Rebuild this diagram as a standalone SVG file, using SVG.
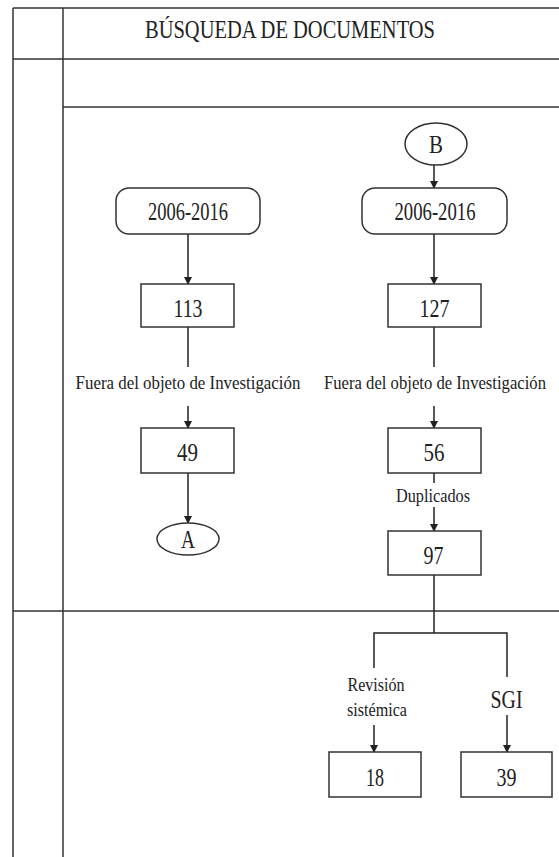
<svg xmlns="http://www.w3.org/2000/svg" width="559" height="857" viewBox="0 0 559 857">
<style>
.grid{stroke:#333;stroke-width:1.5;fill:none}
.box{fill:#fff;stroke:#333;stroke-width:1.5}
.conn{stroke:#222;stroke-width:1.5;fill:none}
.arr{stroke:#222;stroke-width:1.5;fill:none;marker-end:url(#ah)}
text{font-family:"Liberation Serif","Times New Roman",serif;fill:#222;text-anchor:middle}
.t{font-size:25px}
.n{font-size:26px}
.l{font-size:19px}
</style>
<defs>
<marker id="ah" markerWidth="8" markerHeight="10" refX="7" refY="4" orient="auto" markerUnits="userSpaceOnUse" viewBox="0 0 8 8">
<path d="M0,0 L8,4 L0,8 z" fill="#222"/>
</marker>
</defs>
<rect width="559" height="857" fill="#fff"/>
<g id="table">
<line class="grid" x1="13" y1="8" x2="559" y2="8"/>
<line class="grid" x1="13" y1="8" x2="13" y2="857"/>
<line class="grid" x1="63" y1="8" x2="63" y2="857"/>
<line class="grid" x1="13" y1="59" x2="559" y2="59"/>
<line class="grid" x1="63" y1="107" x2="559" y2="107"/>
<line class="grid" x1="13" y1="611" x2="559" y2="611"/>
<text class="t" x="290" y="38" textLength="290" lengthAdjust="spacingAndGlyphs">BÚSQUEDA DE DOCUMENTOS</text>
</g>
<g id="connectors">
<line class="arr" x1="434" y1="165" x2="434" y2="188"/>
<line class="arr" x1="188" y1="234" x2="188" y2="284"/>
<line class="arr" x1="434" y1="234" x2="434" y2="284"/>
<line class="conn" x1="188" y1="327" x2="188" y2="367"/>
<line class="arr" x1="188" y1="406" x2="188" y2="428"/>
<line class="conn" x1="434" y1="327" x2="434" y2="367"/>
<line class="arr" x1="434" y1="406" x2="434" y2="428"/>
<line class="arr" x1="188" y1="473" x2="188" y2="523"/>
<line class="conn" x1="434" y1="473" x2="434" y2="483"/>
<line class="arr" x1="434" y1="507" x2="434" y2="531"/>
<polyline class="conn" points="434,575 434,633"/>
<polyline class="conn" points="374,668 374,633 507,633 507,677"/>
<line class="arr" x1="374" y1="725" x2="374" y2="752"/>
<line class="arr" x1="507" y1="715" x2="507" y2="752"/>
<text class="l" transform="translate(188,389) scale(0.8,1)" x="0" y="0" textLength="281" lengthAdjust="spacingAndGlyphs">Fuera del objeto de Investigación</text>
<text class="l" transform="translate(435,389) scale(0.8,1)" x="0" y="0" textLength="277.5" lengthAdjust="spacingAndGlyphs">Fuera del objeto de Investigación</text>
<text class="l" x="433" y="502" textLength="74" lengthAdjust="spacingAndGlyphs">Duplicados</text>
<text class="l" x="376" y="691" textLength="57" lengthAdjust="spacingAndGlyphs">Revisión</text>
<text class="l" x="377" y="716" textLength="60" lengthAdjust="spacingAndGlyphs">sistémica</text>
<text x="506.5" y="708" style="font-size:25px" textLength="32" lengthAdjust="spacingAndGlyphs">SGI</text>
</g>
<g id="nodeB">
<ellipse class="box" cx="436" cy="144" rx="31" ry="21"/>
<text class="n" x="436" y="153" textLength="14" lengthAdjust="spacingAndGlyphs">B</text>
</g>
<g id="rangeL">
<rect class="box" x="116" y="188" width="144" height="46" rx="13"/>
<text class="n" x="188" y="220" textLength="80" lengthAdjust="spacingAndGlyphs">2006-2016</text>
</g>
<g id="rangeR">
<rect class="box" x="362" y="188" width="145" height="46" rx="13"/>
<text class="n" x="435" y="220" textLength="81" lengthAdjust="spacingAndGlyphs">2006-2016</text>
</g>
<g id="n113">
<rect class="box" x="141" y="284" width="93" height="43"/>
<text class="n" x="188" y="317" textLength="29" lengthAdjust="spacingAndGlyphs">113</text>
</g>
<g id="n127">
<rect class="box" x="388" y="284" width="93" height="43"/>
<text class="n" x="434.5" y="317" textLength="30" lengthAdjust="spacingAndGlyphs">127</text>
</g>
<g id="n49">
<rect class="box" x="141" y="428" width="93" height="45"/>
<text class="n" x="187.5" y="461" textLength="21" lengthAdjust="spacingAndGlyphs">49</text>
</g>
<g id="n56">
<rect class="box" x="388" y="428" width="93" height="45"/>
<text class="n" x="434" y="461" textLength="21" lengthAdjust="spacingAndGlyphs">56</text>
</g>
<g id="nodeA">
<ellipse class="box" cx="188" cy="539" rx="31" ry="16"/>
<text class="n" x="188" y="548" textLength="14" lengthAdjust="spacingAndGlyphs">A</text>
</g>
<g id="n97">
<rect class="box" x="388" y="531" width="93" height="44"/>
<text class="n" x="433.5" y="564" textLength="20" lengthAdjust="spacingAndGlyphs">97</text>
</g>
<g id="n18">
<rect class="box" x="329" y="752" width="92" height="45"/>
<text class="n" x="375" y="786" textLength="18" lengthAdjust="spacingAndGlyphs">18</text>
</g>
<g id="n39">
<rect class="box" x="461" y="752" width="91" height="45"/>
<text class="n" x="506.5" y="786" textLength="20" lengthAdjust="spacingAndGlyphs">39</text>
</g>
</svg>
